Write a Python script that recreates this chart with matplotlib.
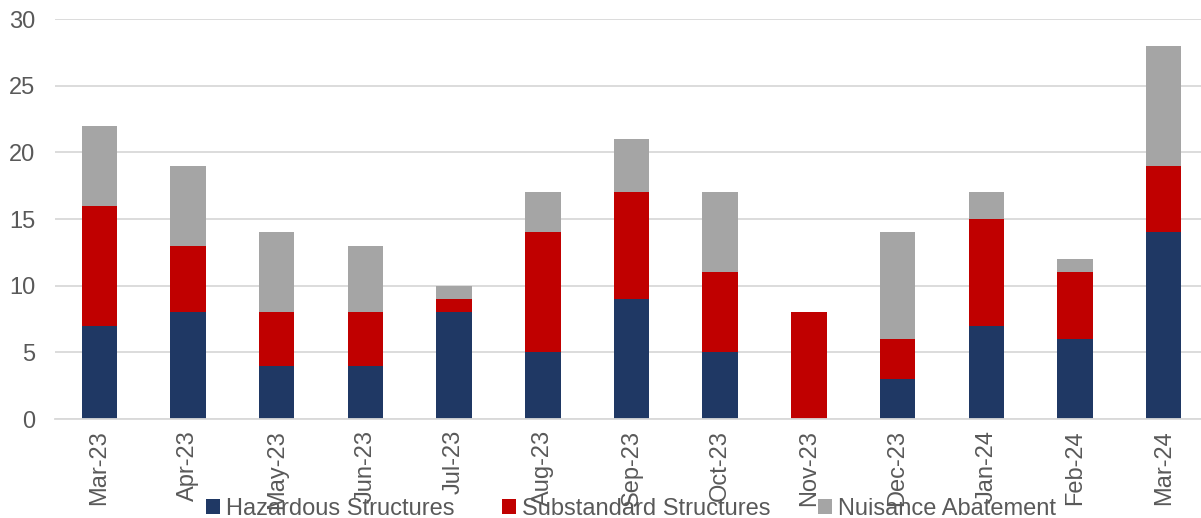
import numpy as np
import matplotlib.pyplot as plt

plt.rcParams['font.family'] = ['Liberation Sans', 'DejaVu Sans']

# monthly counts
months = ['Mar-23', 'Apr-23', 'May-23', 'Jun-23', 'Jul-23', 'Aug-23', 'Sep-23',
          'Oct-23', 'Nov-23', 'Dec-23', 'Jan-24', 'Feb-24', 'Mar-24']
hazardous = [7, 8, 4, 4, 8, 5, 9, 5, 0, 3, 7, 6, 14]
substandard = [9, 5, 4, 4, 1, 9, 8, 6, 8, 3, 8, 5, 5]
nuisance = [6, 6, 6, 5, 1, 3, 4, 6, 0, 8, 2, 1, 9]

W, H = 1201, 518
fig = plt.figure(figsize=(W / 100, H / 100), dpi=100)
ax = fig.add_axes([55 / W, 1 - 419 / H, (1208 - 55) / W, 400 / H])

x = np.arange(len(months))
haz = np.array(hazardous)
sub = np.array(substandard)
nui = np.array(nuisance)
bw = 0.4
ax.bar(x, haz, bw, color='#1F3864', label='Hazardous Structures', zorder=2)
ax.bar(x, sub, bw, bottom=haz, color='#C00000', label='Substandard Structures', zorder=2)
ax.bar(x, nui, bw, bottom=haz + sub, color='#A5A5A5', label='Nuisance Abatement', zorder=2)

ax.set_xlim(-0.5, len(months) - 0.5)
ax.set_ylim(0, 30)
ax.set_yticks(range(0, 31, 5))
ax.set_xticks(x)
ax.set_xticklabels(months, rotation=90)
ax.yaxis.grid(True, color='#D9D9D9', linewidth=1.3, zorder=0)
ax.set_axisbelow(True)
for s in ['top', 'right', 'left']:
    ax.spines[s].set_visible(False)
ax.spines['bottom'].set_color('#D9D9D9')
ax.spines['bottom'].set_linewidth(1.3)
ax.tick_params(axis='both', length=0, labelsize=17, labelcolor='#595959')
ax.tick_params(axis='y', pad=14)
ax.tick_params(axis='x', pad=8)

# legend sits over the tick labels, like the original
fig.legend(loc='center', bbox_to_anchor=(631 / W, 1 - 509 / H), ncol=3, frameon=False,
           fontsize=17, handlelength=0.6, handleheight=0.6, handletextpad=0.25,
           columnspacing=2.0, labelcolor='#595959')

fig.savefig('out.png', dpi=100)
